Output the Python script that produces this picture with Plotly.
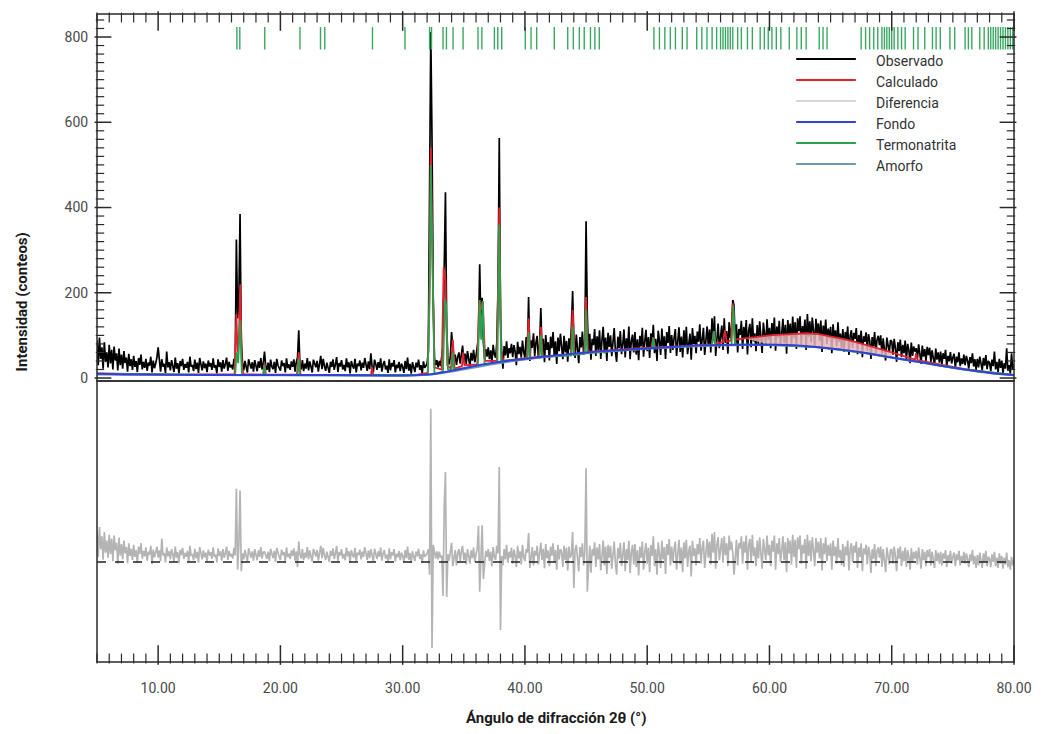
import numpy as np
import plotly.graph_objects as go

# ---------------- data ----------------
# Observed pattern, 5.0 - 80.0 deg 2theta, step 0.1 deg (one row per degree)
obs = [
    88, 30, 95, 45, 72, 22, 84, 38, 60, 25,
    78, 34, 66, 20, 74, 41, 58, 18, 69, 30,
    55, 22, 63, 35, 48, 15, 57, 28, 44, 19,
    52, 26, 40, 14, 47, 31, 55, 20, 38, 24,
    45, 17, 36, 29, 50, 13, 41, 23, 34, 48,
    72, 39, 15, 44, 27, 33, 12, 62, 25, 37,   # 10
    18, 42, 30, 14, 48, 22, 35, 11, 40, 28,
    45, 19, 33, 24, 38, 13, 50, 26, 31, 16,
    43, 21, 36, 12, 47, 29, 18, 39, 23, 34,
    14, 41, 27, 35, 19, 46, 24, 30, 11, 44,
    26, 37, 15, 42, 22, 33, 48, 17, 38, 25,   # 15
    31, 20, 45, 28, 325, 140, 180, 385, 90, 35,
    18, 40, 26, 13, 44, 31, 22, 37, 15, 42,
    29, 16, 39, 24, 47, 20, 35, 62, 28, 19,
    36, 14, 43, 27, 21, 38, 12, 45, 30, 24,
    17, 41, 28, 35, 13, 46, 23, 32, 19, 39,   # 20
    26, 44, 15, 37, 48, 112, 30, 20, 42, 16,
    34, 22, 47, 18, 39, 27, 13, 43, 31, 25,
    40, 15, 33, 52, 21, 45, 28, 17, 36, 23,
    12, 38, 26, 44, 19, 32, 49, 14, 35, 27,
    42, 20, 31, 16, 46, 25, 37, 11, 40, 29,   # 25
    22, 45, 13, 34, 28, 41, 18, 36, 24, 47,
    30, 17, 39, 21, 58, 26, 14, 43, 33, 19,
    37, 24, 46, 15, 32, 40, 20, 29, 12, 44,
    18, 35, 27, 42, 13, 31, 23, 38, 16, 34,
    26, 12, 40, 21, 48, 17, 33, 10, 37, 22,   # 30
    14, 36, 25, 43, 19, 30, 11, 39, 24, 28,
    35, 62, 420, 812, 560, 180, 48, 30, 42, 25,
    40, 28, 52, 75, 260, 436, 120, 45, 32, 50,
    108, 62, 36, 55, 31, 49, 60, 34, 52, 76,
    40, 57, 33, 63, 45, 28, 59, 41, 66, 37,   # 35
    52, 70, 95, 267, 120, 188, 85, 45, 68, 50,
    72, 44, 65, 38, 78, 55, 48, 82, 200, 563,
    140, 60, 22, 75, 53, 86, 47, 70, 58, 80,
    49, 77, 62, 30, 85, 56, 73, 48, 88, 60,
    48, 96, 62, 190, 40, 88, 71, 105, 52, 83,   # 40
    99, 45, 78, 164, 58, 92, 37, 101, 66, 84,
    41, 97, 70, 108, 50, 86, 33, 95, 63, 104,
    76, 44, 99, 60, 87, 38, 93, 68, 120, 204,
    90, 47, 102, 64, 35, 96, 72, 109, 55, 85,
    368, 150, 61, 104, 43, 92, 77, 115, 52, 98,   # 45
    66, 112, 45, 89, 120, 58, 95, 40, 106, 73,
    100, 51, 88, 117, 62, 38, 97, 70, 110, 56,
    79, 114, 48, 93, 65, 121, 44, 87, 102, 60,
    108, 55, 91, 42, 99, 74, 118, 50, 86, 113,
    63, 96, 47, 105, 80, 125, 58, 92, 40, 111,   # 50
    87, 54, 116, 71, 98, 45, 108, 82, 122, 59,
    101, 66, 94, 115, 52, 88, 119, 61, 97, 48,
    112, 73, 120, 56, 90, 104, 43, 117, 80, 99,
    58, 109, 85, 126, 64, 100, 118, 54, 93, 121,
    75, 114, 60, 140, 88, 145, 52, 106, 128, 70,   # 55
    97, 123, 66, 140, 82, 110, 57, 131, 94, 118,
    183, 170, 79, 126, 60, 115, 101, 134, 68, 120,
    92, 136, 55, 111, 127, 72, 140, 86, 105, 63,
    124, 80, 133, 98, 59, 130, 108, 77, 138, 90,
    118, 70, 129, 102, 142, 64, 121, 95, 134, 76,   # 60
    103, 139, 82, 125, 57, 136, 99, 128, 73, 144,
    94, 131, 68, 140, 110, 145, 79, 122, 101, 137,
    66, 150, 97, 133, 84, 142, 112, 71, 139, 105,
    128, 87, 135, 61, 123, 98, 137, 80, 116, 93,
    120, 58, 126, 91, 112, 74, 131, 85, 104, 69,   # 65
    115, 62, 108, 88, 121, 54, 99, 112, 70, 106,
    92, 117, 56, 101, 80, 111, 49, 98, 85, 107,
    64, 103, 87, 45, 96, 74, 108, 58, 90, 99,
    77, 100, 52, 93, 68, 41, 95, 81, 60, 89,
    86, 55, 92, 70, 38, 84, 63, 90, 49, 78,   # 70
    58, 88, 44, 80, 66, 35, 83, 52, 74, 62,
    70, 45, 79, 57, 33, 76, 50, 68, 40, 73,
    54, 71, 38, 65, 47, 29, 69, 43, 60, 36,
    62, 31, 58, 45, 66, 26, 52, 39, 61, 34,
    48, 57, 24, 50, 37, 60, 28, 46, 33, 55,   # 75
    30, 52, 41, 22, 49, 35, 58, 27, 44, 19,
    45, 25, 50, 33, 18, 47, 29, 54, 21, 40,
    36, 16, 43, 28, 62, 20, 38, 14, 45, 24,
    41, 12, 35, 22, 70, 17, 30, 10, 58, 19,
    33,
]

# Difference (observed - calculated), same 0.1 deg grid
diff = [
    75, 12, 82, 30, 60, 5, 70, 22, 50, 10,
    64, 18, 55, 2, 62, 27, 45, -4, 57, 15,
    42, 6, 50, 20, 35, -3, 44, 14, 31, 4,
    40, 12, 28, -2, 36, 19, 44, 8, 26, 13,
    34, 3, 24, 17, 38, -5, 29, 11, 22, 36,
    10, 27, 2, 55, 15, 21, -1, 34, 13, 25,   # 10
    6, 30, 18, 1, 36, 10, 23, -3, 28, 16,
    33, 7, 21, 12, 26, 0, 38, 14, 19, 4,
    31, 9, 24, -2, 35, 17, 6, 27, 11, 22,
    2, 29, 15, 23, 7, 34, 12, 18, -1, 32,
    14, 25, 3, 30, 10, 21, 36, 5, 26, 13,   # 15
    19, 8, 33, 15, 172, -18, 40, 168, -22, 20,
    6, 28, 14, 1, 32, 19, 10, 25, 3, 30,
    17, 4, 27, 12, 35, 8, 23, 24, 16, 7,
    24, 2, 31, 15, 9, 26, 0, 33, 18, 12,
    5, 29, 16, 23, 1, 34, 11, 20, 7, 27,   # 20
    14, 32, 3, 25, -12, 48, 18, 8, 30, 4,
    22, 10, 35, 6, 27, 15, 1, 31, 19, 13,
    28, 3, 21, 38, 9, 33, 16, 5, 24, 11,
    0, 26, 14, 32, 7, 20, 37, 2, 23, 15,
    30, 8, 19, 4, 34, 13, 25, -1, 28, 17,   # 25
    10, 33, 1, 22, 16, 29, 6, 24, 12, 35,
    18, 5, 27, 9, 30, 14, 2, 31, 21, 7,
    25, 12, 34, 3, 20, 28, 8, 17, 0, 32,
    6, 23, 15, 30, 1, 19, 11, 26, 4, 22,
    14, 0, 28, 9, 36, 5, 21, -2, 25, 10,   # 30
    2, 24, 13, 31, 7, 18, -1, 27, 12, 16,
    20, 30, -30, 360, -202, 40, 22, 8, 25, 6,
    24, 10, 15, -80, 130, 211, -82, 18, 3, 26,
    45, -10, 12, 28, -8, 20, 30, 2, 25, 38,
    4, 22, -6, 30, 14, -4, 27, 9, 34, 0,   # 35
    18, 32, 85, -70, 10, 86, -40, -5, 26, 12,
    30, 2, 24, -10, 35, 12, 5, 38, 20, 223,
    -160, 14, -8, 30, 6, 40, -2, 24, 10, 33,
    -4, 29, 14, -12, 38, 8, 25, -6, 40, 12,
    2, 30, 22, 68, -14, 10, 35, -8, 26, 15,   # 40
    38, -6, 20, 45, 5, 31, -15, 42, 9, 27,
    -10, 36, 15, 44, 0, 28, -18, 40, 6, 30,
    24, -12, 38, 4, 33, -20, 36, 10, 18, 70,
    -61, 28, 40, 2, -22, 35, 12, 44, -8, 26,
    220, -70, 4, 38, -25, 30, 15, 46, -12, 34,   # 45
    6, 42, -20, 26, 50, -8, 36, -28, 40, 10,
    38, -16, 28, 48, -4, -30, 33, 8, 45, -10,
    18, 46, -22, 30, 5, 50, -26, 22, 40, -6,
    42, -12, 28, -32, 36, 10, 48, -18, 24, 44,
    -4, 34, -24, 40, 14, 60, -10, 30, -30, 46,   # 50
    20, -14, 50, 6, 35, -28, 42, 16, 54, -8,
    36, 0, 30, 48, -18, 24, 52, -6, 34, -24,
    46, 8, 52, -12, 26, 38, -34, 50, 14, 32,
    -8, 42, 18, 56, -4, 34, 50, -14, 28, 54,
    10, 48, -6, 66, 22, 70, -16, 40, 58, 4,   # 55
    30, 56, -2, 60, 16, 44, -10, 62, 28, 48,
    20, -30, 10, 52, -8, 44, 32, 60, -4, 48,
    22, 62, -18, 40, 54, 0, 64, 14, 34, -10,
    50, 8, 58, 24, -16, 54, 34, 4, 62, 16,
    40, -10, 50, 24, 62, -18, 44, 18, 56, 0,   # 60
    26, 60, 4, 46, -24, 56, 20, 50, -6, 64,
    12, 52, -14, 58, 30, 62, -4, 40, 20, 54,
    -16, 64, 14, 50, 2, 58, 28, -10, 56, 22,
    48, 8, 56, -20, 44, 18, 58, 2, 40, 14,
    44, -18, 50, 14, 36, -4, 56, 10, 28, -8,   # 65
    42, -12, 36, 16, 50, -20, 30, 44, 0, 38,
    22, 48, -14, 34, 12, 44, -22, 32, 18, 40,
    -6, 36, 20, -26, 30, 8, 42, -10, 26, 34,
    10, 36, -12, 30, 4, -24, 34, 18, -6, 28,
    30, -4, 36, 14, -22, 32, 8, 36, -10, 26,   # 70
    2, 34, -12, 28, 12, -18, 32, 0, 24, 8,
    26, -6, 34, 10, -16, 30, 4, 24, -10, 28,
    12, 30, -8, 24, 6, -14, 28, 2, 22, -4,
    24, -8, 20, 8, 28, -12, 16, 2, 26, -4,
    12, 22, -10, 18, 4, 26, -8, 14, 0, 24,   # 75
    -4, 20, 8, -12, 18, 2, 28, -6, 14, -14,
    16, -8, 22, 4, -14, 20, 0, 26, -10, 12,
    8, -12, 18, 0, 24, -10, 10, -14, 20, -4,
    14, -16, 10, -6, 22, -12, 4, -18, 12, -8,
    6,
]

calc_x = [5.0, 8.0, 12.0, 16.25, 16.4, 16.5, 16.6, 16.72, 16.85, 17.0, 18.6, 18.7, 18.8,
          21.35, 21.5, 21.65, 27.4, 27.5, 27.6, 31.0, 32.05, 32.2, 32.3, 32.45, 32.6,
          33.2, 33.35, 33.5, 33.65, 33.95, 34.1, 34.25, 34.85, 34.95, 35.05, 36.1, 36.25,
          36.4, 36.55, 36.75, 37.7, 37.9, 38.05, 38.25, 40.15, 40.3, 40.45, 41.15, 41.3,
          41.45, 43.75, 43.9, 44.05, 44.85, 45.0, 45.15, 48.0, 50.35, 50.5, 50.65, 53.0,
          55.3, 55.45, 55.6, 56.2, 56.35, 56.5, 56.85, 57.0, 57.15, 58.0, 59.0, 60.0, 61.0,
          62.0, 63.0, 64.0, 65.0, 66.0, 67.0, 68.0, 69.0, 70.0, 71.9, 72.0, 72.1, 74.0,
          76.0, 78.0, 80.0]
calc_y = [11, 9, 8, 9, 150, 60, 90, 220, 25, 9, 8, 35, 8,
          8, 60, 8, 7, 25, 7, 7, 12, 220, 540, 260, 25,
          20, 260, 230, 30, 22, 90, 22, 28, 60, 30, 32, 180,
          160, 180, 40, 40, 400, 60, 40, 47, 140, 47, 50, 120,
          50, 55, 160, 56, 60, 190, 61, 67, 72, 95, 72, 75,
          79, 110, 81, 84, 112, 85, 88, 175, 90, 93, 97, 100, 102,
          104, 105, 103, 98, 92, 85, 77, 68, 60, 43, 58, 42, 31,
          21, 13, 7]

fondo_x = [5, 8, 15, 25, 30, 32, 34, 36, 38, 40, 42.5, 45, 48, 51, 54, 57, 60, 62, 64,
           66, 68, 70, 72, 74, 76, 78, 80]
fondo_y = [10, 8, 7, 7, 6, 8, 17, 29, 38, 45, 53, 60, 66, 71, 76, 78, 78, 77, 72,
           66, 58, 48, 39, 29, 20, 12, 7]

amorfo_x = [5, 20, 30, 32, 34, 38, 42, 46, 50, 54, 58, 62, 64, 66, 68, 70, 72, 74, 76, 78, 80]
amorfo_y = [8, 6, 5, 7, 15, 35, 50, 61, 68, 74, 77, 76, 72, 66, 57, 47, 38, 28, 19, 11, 6]

term_x = [5.0, 16.3, 16.42, 16.55, 16.7, 16.85, 18.6, 18.7, 18.8, 21.4, 21.5, 21.6,
          32.05, 32.2, 32.3, 32.45, 32.6, 33.3, 33.45, 33.55, 33.7, 34.0, 34.1, 34.2,
          36.15, 36.3, 36.42, 36.55, 36.7, 37.75, 37.9, 38.05, 40.2, 40.3, 40.4,
          41.2, 41.3, 41.4, 43.8, 43.9, 44.0, 44.9, 45.0, 45.1, 50.4, 50.5, 50.6,
          55.3, 55.45, 55.6, 56.9, 57.05, 57.2, 60.0, 64.0, 68.0, 72.0, 76.0, 80.0]
term_y = [10, 7, 60, 35, 135, 8, 7, 30, 7, 7, 45, 7,
          8, 180, 500, 250, 10, 15, 185, 170, 20, 18, 60, 19,
          28, 183, 90, 180, 32, 36, 360, 40, 45, 108, 46,
          48, 100, 49, 53, 120, 54, 57, 160, 58, 70, 95, 70,
          77, 110, 77, 78, 170, 78, 78, 72, 58, 39, 20, 7]

# Termonatrita reflection positions (green tick marks)
refl_pos = [16.44, 16.68, 18.72, 21.6, 23.28, 23.63, 27.53, 30.19, 32.2, 32.36, 33.3, 33.58,
            34.12, 34.94, 36.16, 36.48, 37.5, 37.78, 38.1, 40.03, 40.5, 40.96, 42.4, 43.5,
            43.96, 44.45, 44.85, 45.36, 45.72, 46.08, 50.55, 51.0, 51.44, 51.89, 52.31,
            52.87, 53.26, 54.05, 54.47, 54.89, 55.31, 55.68, 56.0, 56.2, 56.4, 56.6, 56.8,
            57.0, 57.4, 57.7, 58.2, 58.6, 59.24, 59.58, 59.9, 60.2, 60.56, 60.93, 61.62,
            62.24, 62.6, 63.0, 64.07, 64.38, 64.71, 67.5, 67.86, 68.19, 68.53, 68.86, 69.2,
            69.4, 69.6, 69.8, 70.0, 70.2, 70.5, 70.8, 71.1, 71.78, 72.15, 72.7, 73.33,
            73.63, 73.97, 74.76, 75.15, 76.0, 76.27, 76.55, 77.2, 77.56, 77.9, 78.1, 78.3,
            78.5, 78.7, 78.9, 79.1, 79.3, 79.5, 79.7, 79.9]
refl_level = 797

legend_labels = ["Observado", "Calculado", "Diferencia", "Fondo", "Termonatrita", "Amorfo"]

# ---------------- styling ----------------
C_OBS = "#000000"
C_CALC = "#e3222e"
C_DIFF = "#b4b4b4"
C_DIFF_LEG = "#d3d5dc"
C_FONDO = "#3341d6"
C_TERM = "#2e9e4f"
C_REFL = "#3aa862"
C_AMORFO = "#6f98b3"
C_FILL = "rgba(232,182,190,0.85)"
AX = "#2a2a2a"
FONT = "Roboto"

x_obs = np.round(5.0 + 0.1 * np.arange(len(obs)), 1)
x_diff = np.round(5.0 + 0.1 * np.arange(len(diff)), 1)

W, H = 1044, 734
ML, MR, MT, MB = 97, 25, 14, 72
PW, PH = W - ML - MR, H - MT - MB
SPLIT = 381  # pixel row of the panel boundary
bottom_frac = (H - MB - SPLIT) / PH
TOP_H = SPLIT - MT          # pixel height of upper panel
BOT_H = H - MB - SPLIT      # pixel height of lower panel
X_RANGE = [5, 80]
Y_TOP_RANGE = [-7, 854]
Y_BOT_RANGE = [-235, 425]

# data units per pixel (to centre fixed-pixel-length tick markers inside the frame)
XU = (X_RANGE[1] - X_RANGE[0]) / PW
YU_TOP = (Y_TOP_RANGE[1] - Y_TOP_RANGE[0]) / TOP_H
YU_BOT = (Y_BOT_RANGE[1] - Y_BOT_RANGE[0]) / BOT_H


def px(xp):
    return (xp - ML) / PW


def py(yp):
    return (H - MB - yp) / PH


fig = go.Figure()

# difference (lower panel)
fig.add_trace(go.Scatter(x=x_diff, y=diff, mode="lines", line=dict(color=C_DIFF, width=1.7),
                         xaxis="x", yaxis="y", showlegend=False, hoverinfo="skip"))
# observed
fig.add_trace(go.Scatter(x=x_obs, y=obs, mode="lines", line=dict(color=C_OBS, width=1.7),
                         xaxis="x2", yaxis="y2", showlegend=False))
# pink area between background and calculated pattern (amorphous hump region)
fx = [a for a in fondo_x if 57.5 <= a <= 70]
fy = [b for a, b in zip(fondo_x, fondo_y) if 57.5 <= a <= 70]
cx = [a for a in calc_x if 57.5 <= a <= 70]
cy = [b for a, b in zip(calc_x, calc_y) if 57.5 <= a <= 70]
fig.add_trace(go.Scatter(x=fx, y=fy, mode="lines", line=dict(width=0), xaxis="x2", yaxis="y2",
                         showlegend=False, hoverinfo="skip"))
fig.add_trace(go.Scatter(x=cx, y=cy, mode="lines", line=dict(width=0), fill="tonexty",
                         fillcolor=C_FILL, xaxis="x2", yaxis="y2", showlegend=False,
                         hoverinfo="skip"))
# calculated
fig.add_trace(go.Scatter(x=calc_x, y=calc_y, mode="lines", line=dict(color=C_CALC, width=1.8),
                         xaxis="x2", yaxis="y2", showlegend=False))
# termonatrita phase
fig.add_trace(go.Scatter(x=term_x, y=term_y, mode="lines", line=dict(color=C_TERM, width=1.8),
                         xaxis="x2", yaxis="y2", showlegend=False))
# amorphous
fig.add_trace(go.Scatter(x=amorfo_x, y=amorfo_y, mode="lines",
                         line=dict(color=C_AMORFO, width=1.6, shape="spline"),
                         xaxis="x2", yaxis="y2", showlegend=False))
# background
fig.add_trace(go.Scatter(x=fondo_x, y=fondo_y, mode="lines",
                         line=dict(color=C_FONDO, width=2, shape="spline"),
                         xaxis="x2", yaxis="y2", showlegend=False))
# reflection markers
fig.add_trace(go.Scatter(x=refl_pos, y=[refl_level] * len(refl_pos), mode="markers",
                         marker=dict(symbol="line-ns", size=16, line=dict(color=C_REFL, width=1.4)),
                         xaxis="x2", yaxis="y2", showlegend=False, hoverinfo="x"))

# ---- inward tick marks of the frame, drawn as line markers of fixed pixel length ----
x_ticks_major = [v for v in range(X_RANGE[0], X_RANGE[1] + 1) if v % 10 == 0]
x_ticks_minor = [v for v in range(X_RANGE[0], X_RANGE[1] + 1) if v % 10 != 0]
y_ticks_major = [v for v in range(0, 841, 20) if v % 200 == 0]
y_ticks_minor = [v for v in range(0, 841, 20) if v % 200 != 0]

tick_sets = [
    # (xs, ys, symbol, size px, width, xaxis, yaxis)
    (x_ticks_major, [Y_TOP_RANGE[1] - 7 * YU_TOP] * len(x_ticks_major), "line-ns", 14, 1.5, "x2", "y2"),
    (x_ticks_minor, [Y_TOP_RANGE[1] - 3.5 * YU_TOP] * len(x_ticks_minor), "line-ns", 7, 1.2, "x2", "y2"),
    (x_ticks_major, [Y_BOT_RANGE[0] + 7 * YU_BOT] * len(x_ticks_major), "line-ns", 14, 1.5, "x", "y"),
    (x_ticks_minor, [Y_BOT_RANGE[0] + 3.5 * YU_BOT] * len(x_ticks_minor), "line-ns", 7, 1.2, "x", "y"),
    ([X_RANGE[0] + 6 * XU] * len(y_ticks_major), y_ticks_major, "line-ew", 12, 1.5, "x2", "y2"),
    ([X_RANGE[0] + 3 * XU] * len(y_ticks_minor), y_ticks_minor, "line-ew", 6, 1.2, "x2", "y2"),
    ([X_RANGE[1] - 6 * XU] * len(y_ticks_major), y_ticks_major, "line-ew", 12, 1.5, "x2", "y2"),
    ([X_RANGE[1] - 3 * XU] * len(y_ticks_minor), y_ticks_minor, "line-ew", 6, 1.2, "x2", "y2"),
]
for xs, ys, sym, size, wdt, xa, ya in tick_sets:
    fig.add_trace(go.Scatter(x=xs, y=ys, mode="markers", xaxis=xa, yaxis=ya,
                             marker=dict(symbol=sym, size=size, color=AX,
                                         line=dict(color=AX, width=wdt)),
                             showlegend=False, hoverinfo="skip", cliponaxis=False))

tickfont = dict(family=FONT, size=14, color="#4a4a4a")
HIDDEN_TICK = "rgba(0,0,0,0)"   # transparent outside ticks only set the label offset

fig.update_layout(
    width=W, height=H,
    margin=dict(l=ML, r=MR, t=MT, b=MB),
    paper_bgcolor="white", plot_bgcolor="white",
    showlegend=False,
    xaxis=dict(domain=[0, 1], anchor="y", range=X_RANGE, showline=False, showgrid=False,
               zeroline=False, ticks="outside", ticklen=13, tickcolor=HIDDEN_TICK,
               tick0=0, dtick=10, tickformat=".2f", tickfont=tickfont),
    yaxis=dict(domain=[0, bottom_frac], anchor="x", range=Y_BOT_RANGE, showline=False,
               ticks="", showticklabels=False, showgrid=False, zeroline=False),
    xaxis2=dict(domain=[0, 1], anchor="y2", range=X_RANGE, showline=False, showgrid=False,
                zeroline=False, ticks="", showticklabels=False),
    yaxis2=dict(domain=[bottom_frac, 1], anchor="x2", range=Y_TOP_RANGE, showline=False,
                showgrid=False, zeroline=False, ticks="outside", ticklen=5,
                tickcolor=HIDDEN_TICK, tick0=0, dtick=200, tickfont=tickfont),
)

frame = dict(color=AX, width=1.5)
shapes = [
    # panel frames
    dict(type="rect", xref="x2 domain", yref="y2 domain", x0=0, x1=1, y0=0, y1=1,
         line=frame, fillcolor="rgba(0,0,0,0)"),
    dict(type="rect", xref="x domain", yref="y domain", x0=0, x1=1, y0=0, y1=1,
         line=frame, fillcolor="rgba(0,0,0,0)"),
    # zero line of the difference curve
    dict(type="line", xref="x domain", yref="y", x0=0, x1=1, y0=0, y1=0,
         line=dict(color="#222222", width=1.5, dash="dash")),
]

# legend drawn manually (line samples + real text)
leg_colors = [C_OBS, C_CALC, C_DIFF_LEG, C_FONDO, C_TERM, C_AMORFO]
leg_rows = [61, 82, 103, 124, 145, 166]
annotations = []
for lab, col, yrow in zip(legend_labels, leg_colors, leg_rows):
    shapes.append(dict(type="line", xref="paper", yref="paper", x0=px(800), x1=px(860),
                       y0=py(yrow - 2), y1=py(yrow - 2), line=dict(color=col, width=2)))
    annotations.append(dict(text=lab, xref="paper", yref="paper", x=px(878), y=py(yrow),
                            xanchor="left", yanchor="middle", showarrow=False,
                            font=dict(family=FONT, size=14, color="#333333")))

annotations.append(dict(text="<b>Ángulo de difracción 2θ (°)</b>", xref="paper", yref="paper",
                        x=0.5, y=py(718), xanchor="center", yanchor="middle", showarrow=False,
                        font=dict(family=FONT, size=15, color="#1a1a1a")))
annotations.append(dict(text="<b>Intensidad (conteos)</b>", xref="paper", yref="paper",
                        x=px(22), y=py(302), xanchor="center", yanchor="middle", showarrow=False,
                        textangle=-90, font=dict(family=FONT, size=15, color="#1a1a1a")))

fig.update_layout(shapes=shapes, annotations=annotations)

fig.write_html("out.html")
